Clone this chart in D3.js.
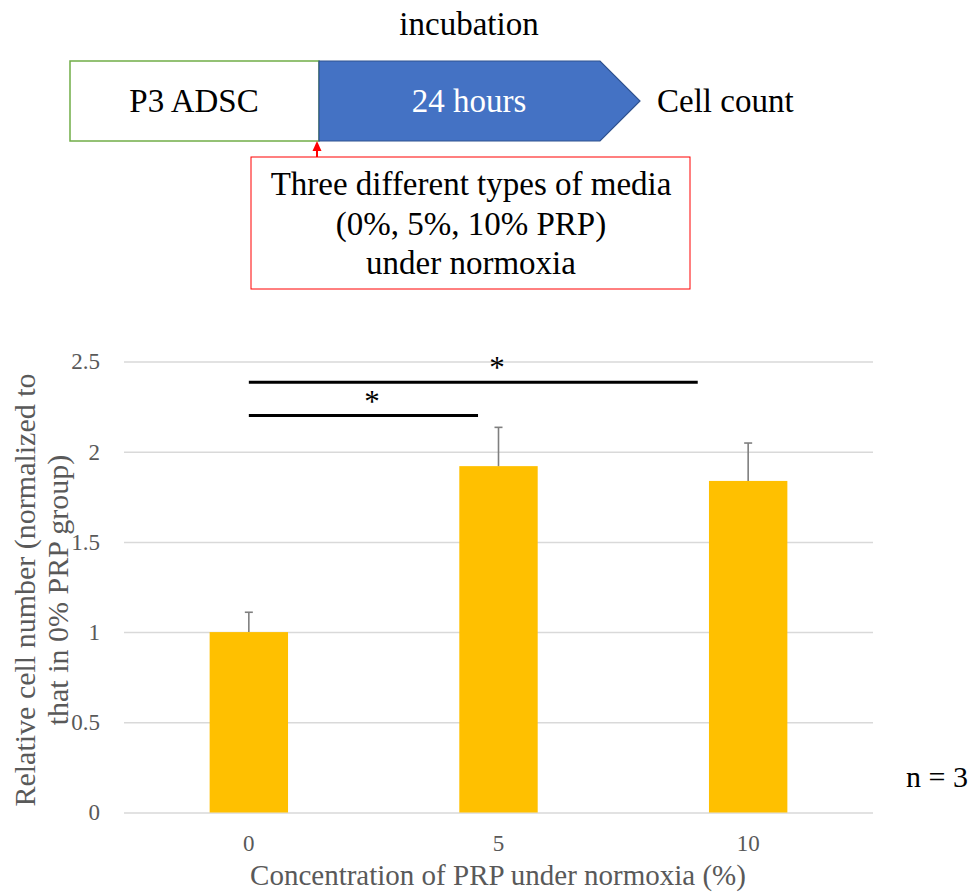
<!DOCTYPE html>
<html>
<head>
<meta charset="utf-8">
<script src="https://cdn.jsdelivr.net/npm/d3@7"></script>
<style>
  body { margin: 0; background: #fff; }
  text { font-family: "Liberation Serif", "Times New Roman", serif; }
</style>
</head>
<body>
<script>
// chart values
var categories = ["0", "5", "10"];
var means = [1.0, 1.92, 1.838];
var errors = [0.11, 0.215, 0.21];
var yTicks = [0, 0.5, 1, 1.5, 2, 2.5];
// significance bars, ends given in category index units
var sigFrom = [0, 0];
var sigTo = [0.918, 1.798];
var sigLevel = [2.2, 2.385];
var sigStar = [0.493, 0.994];
var mediaLines = ["Three different types of media", "(0%, 5%, 10% PRP)", "under normoxia"];

var serif = "'Liberation Serif', 'Times New Roman', serif";
var w = 975, h = 895;
var svg = d3.select("body").append("svg")
    .attr("width", w)
    .attr("height", h)
    .attr("font-family", serif);

// ---- top scheme ----
var scheme = svg.append("g");

scheme.append("text")
    .attr("x", 469).attr("y", 35)
    .attr("text-anchor", "middle")
    .style("font-size", "33px")
    .text("incubation");

scheme.append("rect")
    .attr("x", 70).attr("y", 61)
    .attr("width", 249).attr("height", 80)
    .style("fill", "#fff")
    .style("stroke", "#70ad47")
    .style("stroke-width", 1.5);

scheme.append("text")
    .attr("x", 194).attr("y", 112)
    .attr("text-anchor", "middle")
    .style("font-size", "33px")
    .text("P3 ADSC");

scheme.append("path")
    .attr("d", "M319,61 L600,61 L640,101 L600,141 L319,141 Z")
    .style("fill", "#4472c4")
    .style("stroke", "#2f528f")
    .style("stroke-width", 1.2);

scheme.append("text")
    .attr("x", 469).attr("y", 112)
    .attr("text-anchor", "middle")
    .style("font-size", "33px")
    .style("fill", "#fff")
    .text("24 hours");

scheme.append("text")
    .attr("x", 657).attr("y", 112)
    .style("font-size", "33px")
    .text("Cell count");

// arrow from media box to start of incubation
scheme.append("line")
    .attr("x1", 317).attr("y1", 157)
    .attr("x2", 317).attr("y2", 148)
    .style("stroke", "#ff0000")
    .style("stroke-width", 2);
scheme.append("path")
    .attr("d", "M317,141 L312.5,151 L321.5,151 Z")
    .style("fill", "#ff0000");

scheme.append("rect")
    .attr("x", 251).attr("y", 157)
    .attr("width", 439).attr("height", 132)
    .style("fill", "#fff")
    .style("stroke", "#ff0000")
    .style("stroke-width", 1);

scheme.selectAll(".media")
    .data(mediaLines)
    .enter()
    .append("text")
    .attr("class", "media")
    .attr("x", 471)
    .attr("y", function(d, i){ return 195 + i * 39.5; })
    .attr("text-anchor", "middle")
    .style("font-size", "33px")
    .text(function(d){ return d; });

// ---- bar chart ----
var x = d3.scaleBand()
    .domain(categories)
    .range([124, 873])
    .paddingInner(0.686)
    .paddingOuter(0.343);

var y = d3.scaleLinear()
    .domain([0, 2.5])
    .range([812.5, 361.5]);

// category index -> pixel, for the significance bars
var xi = d3.scaleLinear()
    .domain([0, 2])
    .range([x("0") + x.bandwidth() / 2, x("10") + x.bandwidth() / 2]);

var yAxis = d3.axisLeft(y)
    .tickValues(yTicks)
    .tickSize(-(873 - 124))
    .tickPadding(24)
    .tickFormat(d3.format("~g"));

var gy = svg.append("g")
    .attr("transform", "translate(124,0)")
    .call(yAxis)
    .attr("font-family", serif);
gy.select(".domain").remove();
gy.selectAll(".tick line")
    .style("stroke", "#d9d9d9")
    .style("stroke-width", 1.5);
gy.selectAll(".tick text")
    .style("font-size", "23px")
    .style("fill", "#595959");

var xAxis = d3.axisBottom(x).tickSize(0).tickPadding(22);
var gx = svg.append("g")
    .attr("transform", "translate(0,812.5)")
    .call(xAxis)
    .attr("font-family", serif);
gx.select(".domain").remove();
gx.selectAll(".tick text")
    .style("font-size", "23px")
    .style("fill", "#595959");

svg.selectAll(".bar")
    .data(means)
    .enter()
    .append("rect")
    .attr("class", "bar")
    .attr("x", function(d, i){ return x(categories[i]); })
    .attr("y", function(d){ return y(d); })
    .attr("width", x.bandwidth())
    .attr("height", function(d){ return y(0) - y(d); })
    .style("fill", "#ffc000");

// upper error bars only
var err = svg.selectAll(".err")
    .data(means)
    .enter()
    .append("g")
    .attr("class", "err")
    .style("stroke", "#7f7f7f")
    .style("stroke-width", 1.6);
err.append("line")
    .attr("x1", function(d, i){ return x(categories[i]) + x.bandwidth() / 2; })
    .attr("x2", function(d, i){ return x(categories[i]) + x.bandwidth() / 2; })
    .attr("y1", function(d){ return y(d); })
    .attr("y2", function(d, i){ return y(d + errors[i]); });
err.append("line")
    .attr("x1", function(d, i){ return x(categories[i]) + x.bandwidth() / 2 - 4; })
    .attr("x2", function(d, i){ return x(categories[i]) + x.bandwidth() / 2 + 4; })
    .attr("y1", function(d, i){ return y(d + errors[i]); })
    .attr("y2", function(d, i){ return y(d + errors[i]); });

// significance bars
svg.selectAll(".sig")
    .data(sigLevel)
    .enter()
    .append("line")
    .attr("class", "sig")
    .attr("x1", function(d, i){ return xi(sigFrom[i]); })
    .attr("x2", function(d, i){ return xi(sigTo[i]); })
    .attr("y1", function(d){ return y(d); })
    .attr("y2", function(d){ return y(d); })
    .style("stroke", "#000")
    .style("stroke-width", 3);

svg.selectAll(".star")
    .data(sigLevel)
    .enter()
    .append("text")
    .attr("class", "star")
    .attr("x", function(d, i){ return xi(sigStar[i]); })
    .attr("y", function(d){ return y(d) - 4; })
    .attr("text-anchor", "middle")
    .style("font-size", "31px")
    .text("*");

// axis titles
svg.append("text")
    .attr("x", 498).attr("y", 885)
    .attr("text-anchor", "middle")
    .style("font-size", "29px")
    .style("fill", "#595959")
    .text("Concentration of PRP under normoxia (%)");

var ytitle = svg.append("text")
    .attr("transform", "translate(0,590) rotate(-90)")
    .attr("text-anchor", "middle")
    .style("font-size", "30px")
    .style("fill", "#595959");
ytitle.append("tspan").attr("x", 0).attr("y", 35).text("Relative cell number (normalized to");
ytitle.append("tspan").attr("x", 0).attr("y", 68).text("that in 0% PRP group)");

svg.append("text")
    .attr("x", 906).attr("y", 787)
    .style("font-size", "30px")
    .text("n = 3");
</script>
</body>
</html>
